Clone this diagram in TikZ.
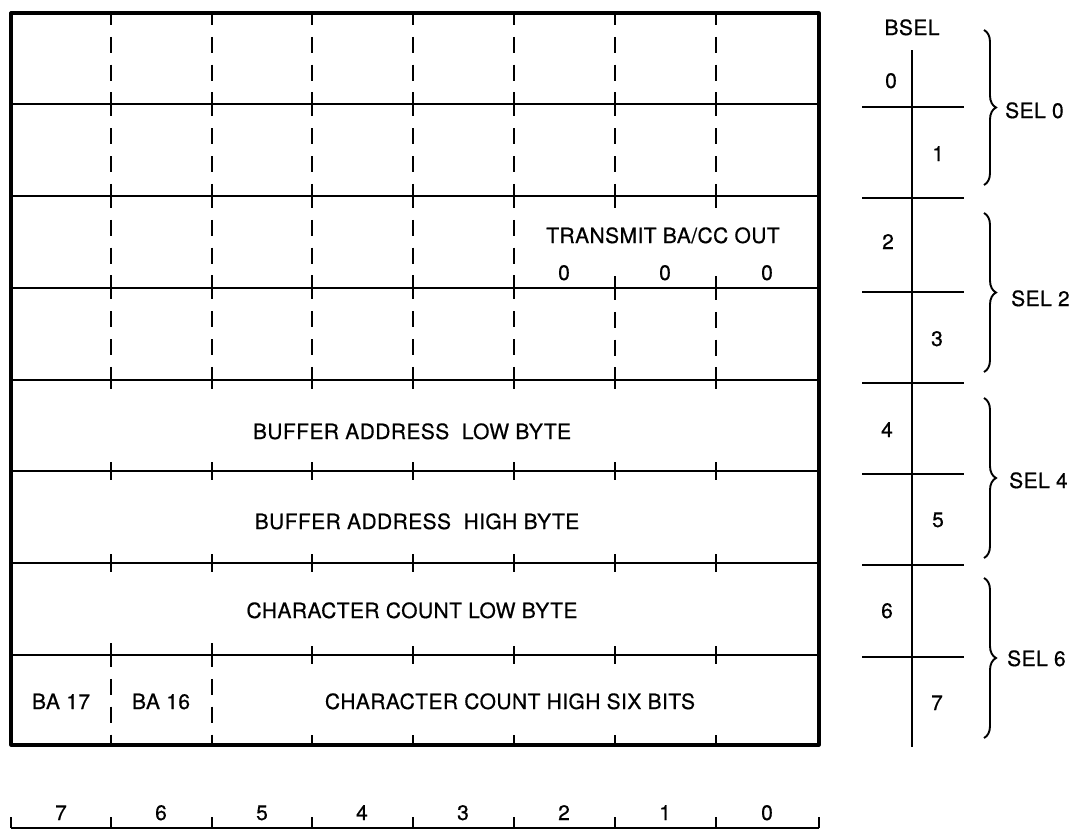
\documentclass[tikz,border=0pt]{standalone}
\usepackage{fontspec}
\newfontfamily\lbl[LetterSpace=2,FakeBold=0.6]{TeX Gyre Heros}
\usetikzlibrary{decorations.pathreplacing}
\begin{document}
\begin{tikzpicture}[x=1pt,y=-1pt,
  txt/.style={font=\lbl\fontsize{21}{25}\selectfont, inner sep=0pt, anchor=base},
  frame/.style={line width=3.2pt, line join=round},
  rule/.style={line width=1.9pt},
  dcol/.style={line width=1.9pt, dash pattern=on 24pt off 11.83pt on 16pt off 11.83pt on 16pt off 11.83pt},
  tick/.style={line width=1.9pt},
  brc/.style={decorate, decoration={brace, amplitude=12pt}, line width=1.9pt}]
\useasboundingbox (0,0) rectangle (1076,830);
% register frame
\draw[frame] (11,13) rectangle (819,745);
\foreach \y in {104,196,288,380,471,563,655} \draw[rule] (11,\y) -- (819,\y);
% dashed bit boundaries, top four bytes
\foreach \x in {111,212,312,413,514} \draw[dcol, dash phase=12pt] (\x,13) -- (\x,380);
\foreach \x in {615,716} {
  \draw[dcol, dash phase=12pt] (\x,13) -- (\x,208);
  \draw[dcol] (\x,276) -- (\x,380);
}
% ticks on lower bytes
\foreach \x in {111,212,312,413,514,615,716}
  \foreach \y in {380,471,563,655} \draw[tick] (\x,\y-9) -- (\x,\y+9);
\foreach \x in {111,212} \draw[dcol] (\x,643) -- (\x,745);
\foreach \x in {312,413,514,615,716} \draw[tick] (\x,735) -- (\x,745);
% labels inside register
\node[txt] (tx) at (663,243) {TRANSMIT BA/CC OUT};
\node[txt] (z2) at (564,280) {0};
\node[txt] (z1) at (665,280) {0};
\node[txt] (z0) at (767,280) {0};
\node[txt] (bal) at (412,439) {BUFFER ADDRESS\ \ LOW BYTE};
\node[txt] (bah) at (417,529) {BUFFER ADDRESS\ \ HIGH BYTE};
\node[txt] (ccl) at (412,618) {CHARACTER COUNT LOW BYTE};
\node[txt] (ba17) at (61,709) {BA 17};
\node[txt] (ba16) at (161,709) {BA 16};
\node[txt] (cch) at (510,709) {CHARACTER COUNT HIGH SIX BITS};
% bit scale
\draw[rule] (11,828) -- (819,828);
\foreach \x in {11,111,212,312,413,514,615,716,819} \draw[tick] (\x,817) -- (\x,828);
\foreach \x/\d in {61/7,161/6,262/5,362/4,463/3,564/2,665/1,767/0}
  \node[txt] (bit\d) at (\x,820) {\d};
% BSEL column
\node[txt] (bsel) at (912,35) {BSEL};
\draw[rule] (912,50) -- (912,747);
\foreach \y in {107,198,292,383,474,565,657} \draw[rule] (862,\y) -- (964,\y);
\foreach \x/\y/\d in {891/88/0,938/161/1,888/249/2,937/346/3,887/437/4,938/527/5,887/618/6,937/710/7}
  \node[txt] (bs\d) at (\x,\y) {\d};
% braces
\draw[brc] (984,30) -- (984,185);
\draw[brc] (984,213) -- (984,372);
\draw[brc] (984,398) -- (984,558);
\draw[brc] (984,578) -- (984,738);
\node[txt, anchor=base west] (sel0) at (1005,118) {SEL 0};
\node[txt, anchor=base west] (sel2) at (1011,306) {SEL 2};
\node[txt, anchor=base west] (sel4) at (1009,488) {SEL 4};
\node[txt, anchor=base west] (sel6) at (1007,666) {SEL 6};
\end{tikzpicture}
\end{document}
